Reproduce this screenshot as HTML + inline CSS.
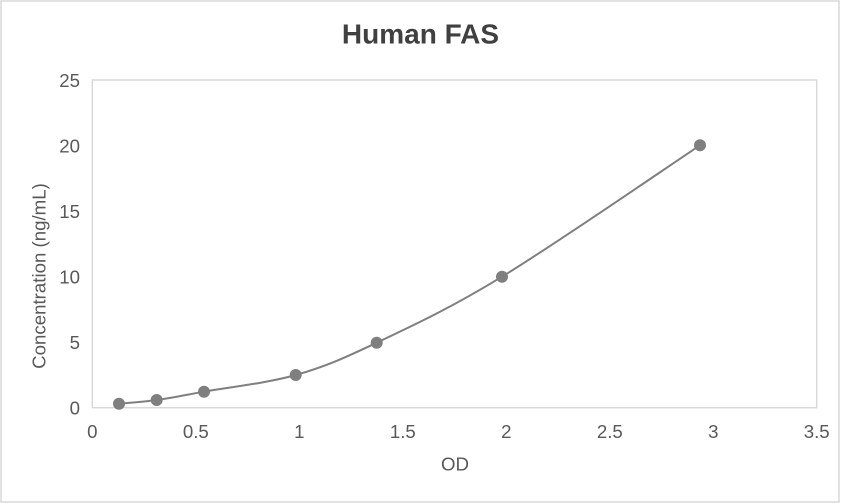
<!DOCTYPE html>
<html>
<head>
<meta charset="utf-8">
<style>
  html, body { margin: 0; padding: 0; background: #ffffff; }
  svg { display: block; }
  text { font-family: "Liberation Sans", Arial, sans-serif; }
</style>
</head>
<body>
<svg width="841" height="503" viewBox="0 0 841 503" xmlns="http://www.w3.org/2000/svg">
  <rect x="0" y="0" width="841" height="503" fill="#ffffff"/>
  <rect x="1" y="1" width="838" height="501" fill="none" stroke="#d9d9d9" stroke-width="1.5"/>

  <text x="420.5" y="43.3" text-anchor="middle" font-size="28" font-weight="bold" fill="#404040">Human FAS</text>

  <rect x="92.3" y="80" width="724.4" height="327.7" fill="none" stroke="#d9d9d9" stroke-width="1.5"/>

  <g font-size="18.67" fill="#595959" text-anchor="end">
    <text x="80" y="87">25</text>
    <text x="80" y="152.5">20</text>
    <text x="80" y="218">15</text>
    <text x="80" y="283.6">10</text>
    <text x="80" y="349.1">5</text>
    <text x="80" y="414.5">0</text>
  </g>

  <g font-size="18.67" fill="#595959" text-anchor="middle">
    <text x="92.3" y="438">0</text>
    <text x="195.8" y="438">0.5</text>
    <text x="299.3" y="438">1</text>
    <text x="402.8" y="438">1.5</text>
    <text x="506.3" y="438">2</text>
    <text x="609.8" y="438">2.5</text>
    <text x="713.3" y="438">3</text>
    <text x="816.7" y="438">3.5</text>
  </g>

  <text x="455" y="470.7" text-anchor="middle" font-size="18.67" fill="#595959">OD</text>
  <text transform="translate(45.5,276) rotate(-90)" text-anchor="middle" font-size="18.67" fill="#595959">Concentration (ng/mL)</text>

  <path d="M119,403.7 C125.3,403.1 142.5,402 156.7,400 C170.9,398 180.8,395.9 204,391.7 C227.2,387.5 266.9,383.2 295.7,375 C324.5,366.8 342.3,359.1 376.7,342.7 C411.1,326.3 448.1,309.6 502,276.7 C555.9,243.8 667,167.2 700,145.3"
        fill="none" stroke="#7f7f7f" stroke-width="2"/>

  <g fill="#7f7f7f">
    <circle cx="119" cy="403.7" r="6"/>
    <circle cx="156.7" cy="400" r="6"/>
    <circle cx="204" cy="391.7" r="6"/>
    <circle cx="295.7" cy="375" r="6"/>
    <circle cx="376.7" cy="342.7" r="6"/>
    <circle cx="502" cy="276.7" r="6"/>
    <circle cx="700" cy="145.3" r="6"/>
  </g>
</svg>
</body>
</html>
